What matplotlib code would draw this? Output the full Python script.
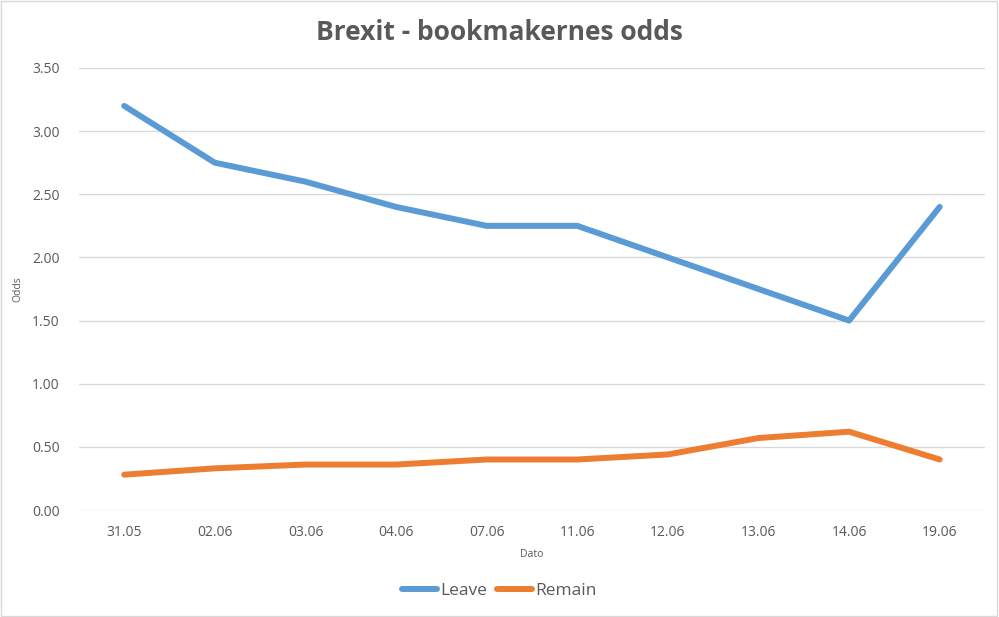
import matplotlib.pyplot as plt
from matplotlib.patches import Rectangle

dates = ["31.05", "02.06", "03.06", "04.06", "07.06", "11.06", "12.06", "13.06", "14.06", "19.06"]
leave = [3.20, 2.75, 2.60, 2.40, 2.25, 2.25, 2.00, 1.75, 1.50, 2.40]
remain = [0.28, 0.33, 0.36, 0.36, 0.40, 0.40, 0.44, 0.57, 0.62, 0.40]

plt.rcParams['font.family'] = ['Open Sans', 'DejaVu Sans']
txt = "#595959"

fig = plt.figure(figsize=(9.99, 6.17), dpi=100)
ax = fig.add_axes([0.079, 0.1734, 0.907, 0.7164])

x = list(range(len(dates)))
ax.plot(x, leave, color="#5B9BD5", linewidth=4.3, solid_capstyle="round",
        solid_joinstyle="round", label="Leave", zorder=3)
ax.plot(x, remain, color="#ED7D31", linewidth=4.3, solid_capstyle="round",
        solid_joinstyle="round", label="Remain", zorder=3)

ax.set_xlim(-0.5, len(dates) - 0.5)
ax.set_ylim(0, 3.5)
ax.set_yticks([i * 0.5 for i in range(8)])
ax.set_yticklabels([f"{i * 0.5:.2f}" for i in range(8)])
ax.set_xticks(x)
ax.set_xticklabels(dates)
ax.tick_params(length=0, colors=txt, labelsize=10)
ax.tick_params(axis="x", pad=11)
ax.tick_params(axis="y", pad=14)
ax.grid(axis="y", color="#D9D9D9", linewidth=1)
ax.set_axisbelow(True)
for s in ax.spines.values():
    s.set_visible(False)

ax.set_xlabel("Dato", fontsize=7.5, color=txt, labelpad=6)
ax.set_ylabel("Odds", fontsize=7.5, color=txt, labelpad=6)

fig.text(0.5, 0.948, "Brexit - bookmakernes odds", ha="center", va="center",
         fontsize=19, fontweight="bold", color=txt)

leg = fig.legend(loc="center", bbox_to_anchor=(0.5, 0.042), ncol=2, frameon=False,
                 fontsize=12.5, handlelength=2.0, handletextpad=0.2, columnspacing=0.6)
for t in leg.get_texts():
    t.set_color(txt)

fig.patches.append(Rectangle((0.001, 0.002), 0.997, 0.996, transform=fig.transFigure,
                             fill=False, edgecolor="#D9D9D9", linewidth=1))

fig.savefig("out.png", dpi=100)
